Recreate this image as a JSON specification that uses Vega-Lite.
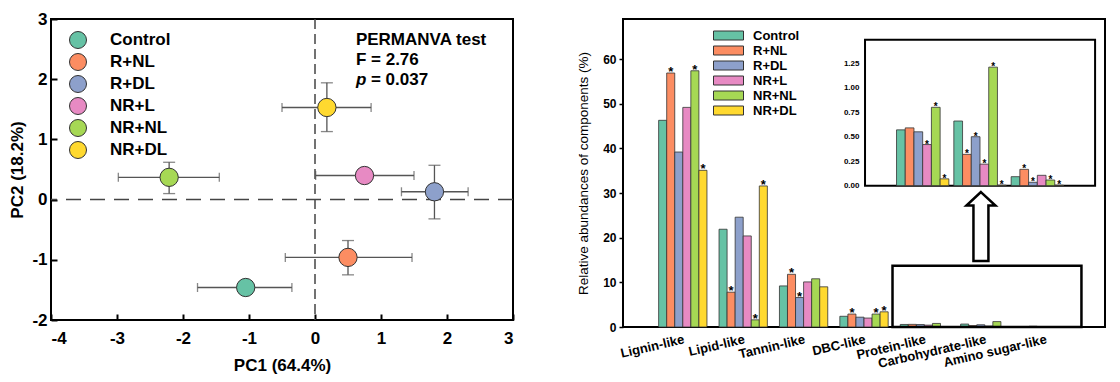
{
  "$schema": "https://vega.github.io/schema/vega-lite/v6.json",
  "padding": {"left": 7, "top": 9, "right": 5, "bottom": 5},
  "spacing": 110,
  "bounds": "flush",
  "config": {
    "font": "Liberation Sans",
    "view": {"stroke": "black", "strokeWidth": 2},
    "axis": {"grid": false, "domain": false, "labelColor": "black", "titleColor": "black", "tickColor": "black"}
  },
  "resolve": {"scale": {"color": "independent"}, "legend": {"color": "independent"}},
  "hconcat": [
    {
      "width": 462,
      "height": 301,
      "data": {"values": [
        {"treatment": "Control", "pc1": -1.05, "pc2": -1.46, "pc1_lo": -1.78, "pc1_hi": -0.35},
        {"treatment": "R+NL", "pc1": 0.50, "pc2": -0.96, "pc1_lo": -0.45, "pc1_hi": 1.47, "pc2_lo": -1.25, "pc2_hi": -0.68},
        {"treatment": "R+DL", "pc1": 1.81, "pc2": 0.13, "pc1_lo": 1.31, "pc1_hi": 2.32, "pc2_lo": -0.32, "pc2_hi": 0.57},
        {"treatment": "NR+L", "pc1": 0.75, "pc2": 0.40, "pc1_lo": 0.01, "pc1_hi": 1.50},
        {"treatment": "NR+NL", "pc1": -2.21, "pc2": 0.37, "pc1_lo": -2.98, "pc1_hi": -1.45, "pc2_lo": 0.10, "pc2_hi": 0.62},
        {"treatment": "NR+DL", "pc1": 0.18, "pc2": 1.53, "pc1_lo": -0.50, "pc1_hi": 0.85, "pc2_lo": 1.13, "pc2_hi": 1.94}
      ]},
      "layer": [
        {
          "data": {"values": [{}]},
          "mark": {"type": "rule", "strokeDash": [10, 5], "color": "#444", "strokeWidth": 1.5},
          "encoding": {"x": {"datum": 0, "type": "quantitative", "title": "PC1 (64.4%)",
            "scale": {"domain": [-4, 3], "nice": false},
            "axis": {"values": [-4, -3, -2, -1, 0, 1, 2, 3], "labelExpr": "datum.value < 0 ? '-' + abs(datum.value) : '' + datum.value", "tickSize": -6, "tickWidth": 2, "labelFontSize": 17, "labelFontWeight": "bold", "labelPadding": 16, "titleFontSize": 17, "titleFontWeight": "bold", "titlePadding": 11}}}
        },
        {
          "data": {"values": [{}]},
          "mark": {"type": "rule", "strokeDash": [15, 9], "color": "#444", "strokeWidth": 1.5},
          "encoding": {"y": {"datum": 0, "type": "quantitative", "title": "PC2 (18.2%)",
            "scale": {"domain": [-2, 3], "nice": false},
            "axis": {"values": [-2, -1, 0, 1, 2, 3], "labelExpr": "datum.value < 0 ? '-' + abs(datum.value) : '' + datum.value", "tickSize": -6, "tickWidth": 2, "labelFontSize": 17, "labelFontWeight": "bold", "labelPadding": 10, "titleFontSize": 17, "titleFontWeight": "bold", "titlePadding": 5}}}
        },
        {
          "mark": {"type": "rule", "color": "#555", "strokeWidth": 1.3},
          "encoding": {
            "x": {"field": "pc1_lo", "type": "quantitative", "title": "PC1 (64.4%)"},
            "x2": {"field": "pc1_hi"},
            "y": {"field": "pc2", "type": "quantitative", "title": "PC2 (18.2%)"}
          }
        },
        {
          "mark": {"type": "tick", "orient": "vertical", "size": 9, "thickness": 1.3, "color": "#555"},
          "encoding": {
            "x": {"field": "pc1_lo", "type": "quantitative", "title": "PC1 (64.4%)"},
            "y": {"field": "pc2", "type": "quantitative", "title": "PC2 (18.2%)"}
          }
        },
        {
          "mark": {"type": "tick", "orient": "vertical", "size": 9, "thickness": 1.3, "color": "#555"},
          "encoding": {
            "x": {"field": "pc1_hi", "type": "quantitative", "title": "PC1 (64.4%)"},
            "y": {"field": "pc2", "type": "quantitative", "title": "PC2 (18.2%)"}
          }
        },
        {
          "transform": [{"filter": "isValid(datum.pc2_lo)"}],
          "mark": {"type": "rule", "color": "#555", "strokeWidth": 1.3},
          "encoding": {
            "x": {"field": "pc1", "type": "quantitative", "title": "PC1 (64.4%)"},
            "y": {"field": "pc2_lo", "type": "quantitative", "title": "PC2 (18.2%)"},
            "y2": {"field": "pc2_hi"}
          }
        },
        {
          "transform": [{"filter": "isValid(datum.pc2_lo)"}],
          "mark": {"type": "tick", "orient": "horizontal", "size": 12, "thickness": 1.3, "color": "#555"},
          "encoding": {
            "x": {"field": "pc1", "type": "quantitative", "title": "PC1 (64.4%)"},
            "y": {"field": "pc2_lo", "type": "quantitative", "title": "PC2 (18.2%)"}
          }
        },
        {
          "transform": [{"filter": "isValid(datum.pc2_lo)"}],
          "mark": {"type": "tick", "orient": "horizontal", "size": 12, "thickness": 1.3, "color": "#555"},
          "encoding": {
            "x": {"field": "pc1", "type": "quantitative", "title": "PC1 (64.4%)"},
            "y": {"field": "pc2_hi", "type": "quantitative", "title": "PC2 (18.2%)"}
          }
        },
        {
          "mark": {"type": "point", "filled": true, "size": 335, "stroke": "#333", "strokeWidth": 1, "opacity": 1},
          "encoding": {
            "x": {"field": "pc1", "type": "quantitative", "title": "PC1 (64.4%)"},
            "y": {"field": "pc2", "type": "quantitative", "title": "PC2 (18.2%)"},
            "color": {"field": "treatment", "type": "nominal",
              "scale": {"domain": ["Control", "R+NL", "R+DL", "NR+L", "NR+NL", "NR+DL"], "range": ["#66c2a5", "#fc8d62", "#8da0cb", "#e78ac3", "#a6d854", "#ffd92f"]},
              "legend": {"title": null, "orient": "none", "legendX": 18, "legendY": 12, "symbolType": "circle", "symbolSize": 289, "labelFontSize": 17, "labelFontWeight": "bold", "labelColor": "black", "labelOffset": 23, "rowPadding": 0, "symbolStrokeColor": "#333", "symbolStrokeWidth": 1, "symbolOpacity": 1}}
          }
        },
        {
          "data": {"values": [{}]},
          "mark": {"type": "text", "text": "PERMANVA test", "fontSize": 17, "fontWeight": "bold", "align": "left", "baseline": "middle", "color": "black"},
          "encoding": {"x": {"datum": 0.62, "type": "quantitative"}, "y": {"datum": 2.65, "type": "quantitative"}}
        },
        {
          "data": {"values": [{}]},
          "mark": {"type": "text", "text": "F = 2.76", "fontSize": 17, "fontWeight": "bold", "align": "left", "baseline": "middle", "color": "black"},
          "encoding": {"x": {"datum": 0.62, "type": "quantitative"}, "y": {"datum": 2.32, "type": "quantitative"}}
        },
        {
          "data": {"values": [{}]},
          "mark": {"type": "text", "text": "p", "fontSize": 17, "fontWeight": "bold", "fontStyle": "italic", "align": "left", "baseline": "middle", "color": "black"},
          "encoding": {"x": {"datum": 0.62, "type": "quantitative"}, "y": {"datum": 1.99, "type": "quantitative"}}
        },
        {
          "data": {"values": [{}]},
          "mark": {"type": "text", "text": "= 0.037", "fontSize": 17, "fontWeight": "bold", "align": "left", "baseline": "middle", "dx": 15, "color": "black"},
          "encoding": {"x": {"datum": 0.62, "type": "quantitative"}, "y": {"datum": 1.99, "type": "quantitative"}}
        }
      ]
    },
    {
      "width": 482,
      "height": 308,
      "data": {"values": [
        {"component": "Lignin-like", "treatment": "Control", "value": 46.3, "sig": 0},
        {"component": "Lignin-like", "treatment": "R+NL", "value": 56.9, "sig": 1},
        {"component": "Lignin-like", "treatment": "R+DL", "value": 39.2, "sig": 0},
        {"component": "Lignin-like", "treatment": "NR+L", "value": 49.2, "sig": 0},
        {"component": "Lignin-like", "treatment": "NR+NL", "value": 57.4, "sig": 1},
        {"component": "Lignin-like", "treatment": "NR+DL", "value": 35.1, "sig": 1},
        {"component": "Lipid-like", "treatment": "Control", "value": 21.9, "sig": 0},
        {"component": "Lipid-like", "treatment": "R+NL", "value": 7.8, "sig": 1},
        {"component": "Lipid-like", "treatment": "R+DL", "value": 24.6, "sig": 0},
        {"component": "Lipid-like", "treatment": "NR+L", "value": 20.4, "sig": 0},
        {"component": "Lipid-like", "treatment": "NR+NL", "value": 1.6, "sig": 1},
        {"component": "Lipid-like", "treatment": "NR+DL", "value": 31.6, "sig": 1},
        {"component": "Tannin-like", "treatment": "Control", "value": 9.2, "sig": 0},
        {"component": "Tannin-like", "treatment": "R+NL", "value": 11.8, "sig": 1},
        {"component": "Tannin-like", "treatment": "R+DL", "value": 6.6, "sig": 1},
        {"component": "Tannin-like", "treatment": "NR+L", "value": 10.1, "sig": 0},
        {"component": "Tannin-like", "treatment": "NR+NL", "value": 10.8, "sig": 0},
        {"component": "Tannin-like", "treatment": "NR+DL", "value": 9.0, "sig": 0},
        {"component": "DBC-like", "treatment": "Control", "value": 2.4, "sig": 0},
        {"component": "DBC-like", "treatment": "R+NL", "value": 2.9, "sig": 1},
        {"component": "DBC-like", "treatment": "R+DL", "value": 2.2, "sig": 0},
        {"component": "DBC-like", "treatment": "NR+L", "value": 2.0, "sig": 0},
        {"component": "DBC-like", "treatment": "NR+NL", "value": 2.9, "sig": 1},
        {"component": "DBC-like", "treatment": "NR+DL", "value": 3.4, "sig": 1},
        {"component": "Protein-like", "treatment": "Control", "value": 0.57, "sig": 0},
        {"component": "Protein-like", "treatment": "R+NL", "value": 0.59, "sig": 0},
        {"component": "Protein-like", "treatment": "R+DL", "value": 0.55, "sig": 0},
        {"component": "Protein-like", "treatment": "NR+L", "value": 0.42, "sig": 1},
        {"component": "Protein-like", "treatment": "NR+NL", "value": 0.80, "sig": 1},
        {"component": "Protein-like", "treatment": "NR+DL", "value": 0.07, "sig": 1},
        {"component": "Carbohydrate-like", "treatment": "Control", "value": 0.66, "sig": 0},
        {"component": "Carbohydrate-like", "treatment": "R+NL", "value": 0.32, "sig": 1},
        {"component": "Carbohydrate-like", "treatment": "R+DL", "value": 0.50, "sig": 1},
        {"component": "Carbohydrate-like", "treatment": "NR+L", "value": 0.22, "sig": 1},
        {"component": "Carbohydrate-like", "treatment": "NR+NL", "value": 1.21, "sig": 1},
        {"component": "Carbohydrate-like", "treatment": "NR+DL", "value": 0.005, "sig": 1},
        {"component": "Amino sugar-like", "treatment": "Control", "value": 0.092, "sig": 0},
        {"component": "Amino sugar-like", "treatment": "R+NL", "value": 0.167, "sig": 1},
        {"component": "Amino sugar-like", "treatment": "R+DL", "value": 0.035, "sig": 1},
        {"component": "Amino sugar-like", "treatment": "NR+L", "value": 0.106, "sig": 0},
        {"component": "Amino sugar-like", "treatment": "NR+NL", "value": 0.058, "sig": 1},
        {"component": "Amino sugar-like", "treatment": "NR+DL", "value": 0.005, "sig": 1}
      ]},
      "resolve": {"scale": {"x": "independent", "y": "independent", "xOffset": "independent"}},
      "layer": [
        {
          "layer": [
            {
              "mark": {"type": "bar", "stroke": "#333", "strokeWidth": 0.8},
              "encoding": {
                "x": {"field": "component", "type": "nominal", "title": null,
                  "sort": ["Lignin-like", "Lipid-like", "Tannin-like", "DBC-like", "Protein-like", "Carbohydrate-like", "Amino sugar-like"],
                  "scale": {"paddingInner": 0.2, "paddingOuter": 0.59},
                  "axis": {"labelAngle": -13, "labelAlign": "right", "labelBaseline": "top", "labelFontSize": 13, "labelFontWeight": "bold", "labelPadding": 6, "ticks": false}},
                "xOffset": {"field": "treatment", "type": "nominal", "sort": ["Control", "R+NL", "R+DL", "NR+L", "NR+NL", "NR+DL"]},
                "y": {"field": "value", "type": "quantitative", "title": "Relative abundances of components (%)",
                  "scale": {"domain": [0, 69], "nice": false},
                  "axis": {"values": [0, 10, 20, 30, 40, 50, 60], "tickSize": 4, "tickWidth": 1.5, "labelFontSize": 12, "labelFontWeight": "bold", "labelPadding": 3, "titleFontSize": 13.5, "titleFontWeight": "normal", "titlePadding": 12}},
                "color": {"field": "treatment", "type": "nominal",
                  "scale": {"domain": ["Control", "R+NL", "R+DL", "NR+L", "NR+NL", "NR+DL"], "range": ["#66c2a5", "#fc8d62", "#8da0cb", "#e78ac3", "#a6d854", "#ffd92f"]},
                  "legend": {"title": null, "orient": "none", "legendX": 99, "legendY": 10, "symbolType": "M-3,-0.9H3V0.9H-3Z", "symbolSize": 100, "labelFontSize": 13, "labelFontWeight": "bold", "labelColor": "black", "labelOffset": 18, "rowPadding": 1, "symbolStrokeColor": "#333", "symbolStrokeWidth": 1, "symbolOpacity": 1}}
              }
            },
            {
              "transform": [{"filter": "datum.sig == 1 && indexof(['Lignin-like','Lipid-like','Tannin-like','DBC-like'], datum.component) >= 0"}],
              "mark": {"type": "text", "text": "*", "fontSize": 13, "fontWeight": "bold", "baseline": "alphabetic", "dy": 3, "color": "black"},
              "encoding": {
                "x": {"field": "component", "type": "nominal", "sort": ["Lignin-like", "Lipid-like", "Tannin-like", "DBC-like", "Protein-like", "Carbohydrate-like", "Amino sugar-like"], "title": null},
                "xOffset": {"field": "treatment", "type": "nominal", "sort": ["Control", "R+NL", "R+DL", "NR+L", "NR+NL", "NR+DL"]},
                "y": {"field": "value", "type": "quantitative", "title": "Relative abundances of components (%)"}
              }
            },
            {
              "data": {"values": [{}]},
              "mark": {"type": "rect", "fillOpacity": 0, "stroke": "black", "strokeWidth": 2.5},
              "encoding": {
                "x": {"datum": "Protein-like", "type": "nominal", "bandPosition": -0.16},
                "x2": {"datum": "Amino sugar-like", "bandPosition": 1.25},
                "y": {"datum": 13.7, "type": "quantitative"},
                "y2": {"datum": 0}
              }
            },
            {
              "data": {"values": [{}]},
              "mark": {"type": "point", "shape": "M0,-1L0.42,-0.61L0.217,-0.61L0.217,1L-0.217,1L-0.217,-0.61L-0.42,-0.61Z", "size": 4761, "fill": "white", "stroke": "black", "strokeWidth": 2.5, "opacity": 1},
              "encoding": {
                "x": {"datum": "Carbohydrate-like", "type": "nominal", "bandPosition": 0.42},
                "y": {"datum": 22.5, "type": "quantitative"}
              }
            }
          ]
        },
        {
          "layer": [
            {
              "data": {"values": [{}]},
              "mark": {"type": "rect", "fill": "white", "stroke": "black", "strokeWidth": 2},
              "encoding": {
                "x": {"datum": "Protein-like", "type": "nominal", "bandPosition": -0.602, "axis": null,
                  "scale": {"domain": ["Protein-like", "Carbohydrate-like", "Amino sugar-like"], "range": [242, 472], "paddingInner": 0.087, "paddingOuter": 0.55}},
                "x2": {"datum": "Amino sugar-like", "bandPosition": 1.604},
                "y": {"datum": 0, "type": "quantitative",
                  "scale": {"domain": [0, 1.49], "nice": false, "range": [166.7, 20.7]},
                  "axis": {"orient": "left", "offset": -242, "values": [0, 0.25, 0.5, 0.75, 1, 1.25], "format": ".2f", "labelFontSize": 8, "labelFontWeight": "bold", "labelPadding": 6, "ticks": false, "title": null}},
                "y2": {"datum": 1.49}
              }
            },
            {
              "transform": [{"filter": "indexof(['Protein-like','Carbohydrate-like','Amino sugar-like'], datum.component) >= 0"}],
              "mark": {"type": "bar", "stroke": "#333", "strokeWidth": 0.8},
              "encoding": {
                "x": {"field": "component", "type": "nominal", "sort": ["Protein-like", "Carbohydrate-like", "Amino sugar-like"], "axis": null},
                "xOffset": {"field": "treatment", "type": "nominal", "sort": ["Control", "R+NL", "R+DL", "NR+L", "NR+NL", "NR+DL"]},
                "y": {"field": "value", "type": "quantitative", "title": null},
                "color": {"field": "treatment", "type": "nominal",
                  "scale": {"domain": ["Control", "R+NL", "R+DL", "NR+L", "NR+NL", "NR+DL"], "range": ["#66c2a5", "#fc8d62", "#8da0cb", "#e78ac3", "#a6d854", "#ffd92f"]},
                  "legend": {"title": null, "orient": "none", "legendX": 99, "legendY": 10, "symbolType": "M-3,-0.9H3V0.9H-3Z", "symbolSize": 100, "labelFontSize": 13, "labelFontWeight": "bold", "labelColor": "black", "labelOffset": 18, "rowPadding": 1, "symbolStrokeColor": "#333", "symbolStrokeWidth": 1, "symbolOpacity": 1}}
              }
            },
            {
              "transform": [{"filter": "datum.sig == 1 && indexof(['Protein-like','Carbohydrate-like','Amino sugar-like'], datum.component) >= 0"}],
              "mark": {"type": "text", "text": "*", "fontSize": 10, "fontWeight": "bold", "baseline": "alphabetic", "dy": 3, "color": "black"},
              "encoding": {
                "x": {"field": "component", "type": "nominal", "sort": ["Protein-like", "Carbohydrate-like", "Amino sugar-like"], "axis": null},
                "xOffset": {"field": "treatment", "type": "nominal", "sort": ["Control", "R+NL", "R+DL", "NR+L", "NR+NL", "NR+DL"]},
                "y": {"field": "value", "type": "quantitative", "title": null}
              }
            }
          ]
        }
      ]
    }
  ]
}
